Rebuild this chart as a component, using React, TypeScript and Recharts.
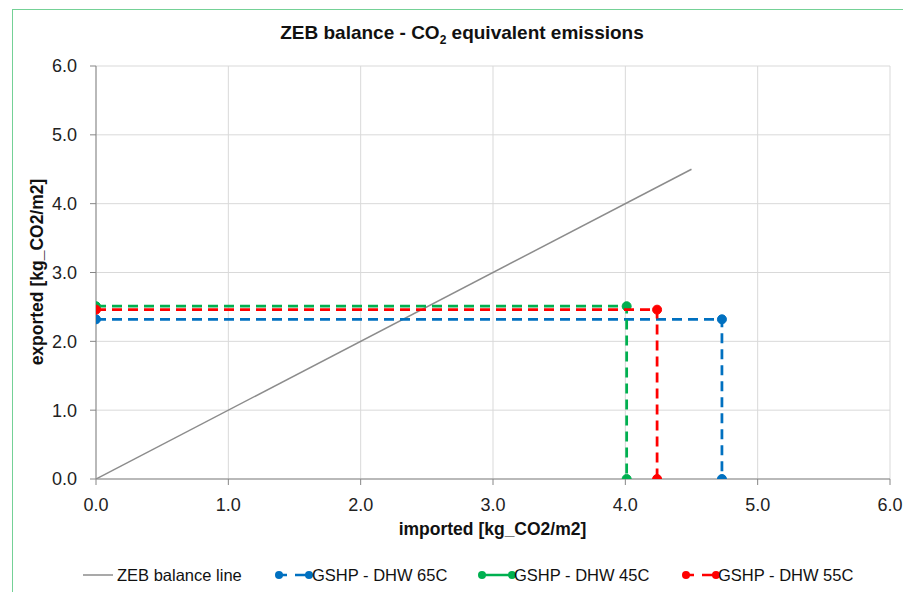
import React from "react";
import { ScatterChart, Scatter, XAxis, YAxis, CartesianGrid } from "recharts";

const X_TICKS = [0, 1, 2, 3, 4, 5, 6];
const Y_TICKS = [0, 1, 2, 3, 4, 5, 6];

const ZEB_X = [0, 4.5];
const ZEB_Y = [0, 4.5];
const DHW65_X = [0, 4.73, 4.73];
const DHW65_Y = [2.32, 2.32, 0];
const DHW45_X = [0, 4.01, 4.01];
const DHW45_Y = [2.51, 2.51, 0];
const DHW55_X = [0, 4.24, 4.24];
const DHW55_Y = [2.46, 2.46, 0];

const zip = (xs: number[], ys: number[]) => xs.map((x, i) => ({ x, y: ys[i] }));

const FONT = "'Liberation Sans', Arial, sans-serif";
const BLUE = "#0070c0";
const GREEN = "#00b050";
const RED = "#ff0000";
const GRAY = "#8c8c8c";

const dot = (color: string) => (props: any) =>
  <circle cx={props.cx} cy={props.cy} r={4.5} fill={color} stroke={color} />;

// legend swatch: line with a marker at each end, like the Excel legend
const LegendIcon: React.FC<{ color: string; dashed?: boolean; marker?: boolean }> = ({ color, dashed, marker }) => (
  <svg width={40} height={12} style={{ display: "block" }}>
    <line x1={marker ? 5 : 1} y1={6} x2={marker ? 35 : 31} y2={6} stroke={color} strokeWidth={marker ? 2.5 : 1.5}
      strokeDasharray={dashed ? "8 8 14" : undefined} />
    {marker && <circle cx={5} cy={6} r={4} fill={color} />}
    {marker && <circle cx={35} cy={6} r={4} fill={color} />}
  </svg>
);

const legendItems = [
  { label: "ZEB balance line", color: GRAY, dashed: false, marker: false, left: 82, textLeft: 117 },
  { label: "GSHP - DHW 65C", color: BLUE, dashed: true, marker: true, left: 274, textLeft: 312 },
  { label: "GSHP - DHW 45C", color: GREEN, dashed: false, marker: true, left: 477, textLeft: 514 },
  { label: "GSHP - DHW 55C", color: RED, dashed: true, marker: true, left: 681, textLeft: 718 },
];

const tick = { fontSize: 18, fill: "#222", fontFamily: FONT };

export default function App() {
  return (
    <div style={{ position: "absolute", left: 0, top: 0, width: 903, height: 592, background: "#fff", fontFamily: FONT }}>
      <div style={{ position: "absolute", left: 12, top: 9, width: 891, height: 583, borderTop: "1.5px solid #74d196", borderLeft: "1.5px solid #74d196" }} />
      <div style={{ position: "absolute", left: 0, top: 22, width: 924, textAlign: "center", fontWeight: "bold", fontSize: 19, lineHeight: "22px", color: "#111" }}>
        ZEB balance - CO<sub style={{ fontSize: 12, lineHeight: 0 }}>2</sub> equivalent emissions
      </div>
      <ScatterChart width={903} height={592} margin={{ top: 66, right: 13, bottom: 83, left: 36 }}>
        <CartesianGrid stroke="#d9d9d9" />
        <XAxis type="number" dataKey="x" domain={[0, 6]} ticks={X_TICKS} allowDataOverflow
          tickFormatter={(v: number) => v.toFixed(1)} tick={tick} height={30} tickMargin={13}
          axisLine={{ stroke: "#868686" }} tickLine={{ stroke: "#868686" }} />
        <YAxis type="number" dataKey="y" domain={[0, 6]} ticks={Y_TICKS} allowDataOverflow
          tickFormatter={(v: number) => v.toFixed(1)} tick={tick} width={60} tickMargin={13}
          axisLine={{ stroke: "#868686" }} tickLine={{ stroke: "#868686" }} />
        <Scatter data={zip(ZEB_X, ZEB_Y)} line={{ stroke: GRAY, strokeWidth: 1.5 }} lineType="joint"
          shape={() => <g />} isAnimationActive={false} />
        <Scatter data={zip(DHW65_X, DHW65_Y)} line={{ stroke: BLUE, strokeWidth: 2.75, strokeDasharray: "10 6" }}
          lineType="joint" shape={dot(BLUE)} isAnimationActive={false} />
        <Scatter data={zip(DHW45_X, DHW45_Y)} line={{ stroke: GREEN, strokeWidth: 2.75, strokeDasharray: "10 6" }}
          lineType="joint" shape={dot(GREEN)} isAnimationActive={false} />
        <Scatter data={zip(DHW55_X, DHW55_Y)} line={{ stroke: RED, strokeWidth: 2.75, strokeDasharray: "10 6" }}
          lineType="joint" shape={dot(RED)} isAnimationActive={false} />
      </ScatterChart>
      <div style={{ position: "absolute", left: 0, top: 519, width: 985, textAlign: "center", fontWeight: "bold", fontSize: 17.5, lineHeight: "20px", color: "#111" }}>
        imported [kg_CO2/m2]
      </div>
      <div style={{ position: "absolute", left: 37, top: 272, transform: "translate(-50%, -50%) rotate(-90deg)", whiteSpace: "nowrap", fontWeight: "bold", fontSize: 17.5, lineHeight: "20px", color: "#111" }}>
        exported [kg_CO2/m2]
      </div>
      {legendItems.map((it) => (
        <React.Fragment key={it.label}>
          <div style={{ position: "absolute", left: it.left, top: 569 }}>
            <LegendIcon color={it.color} dashed={it.dashed} marker={it.marker} />
          </div>
          <div style={{ position: "absolute", left: it.textLeft, top: 565, fontSize: 16.5, lineHeight: "20px", color: "#111", whiteSpace: "nowrap" }}>
            {it.label}
          </div>
        </React.Fragment>
      ))}
    </div>
  );
}
